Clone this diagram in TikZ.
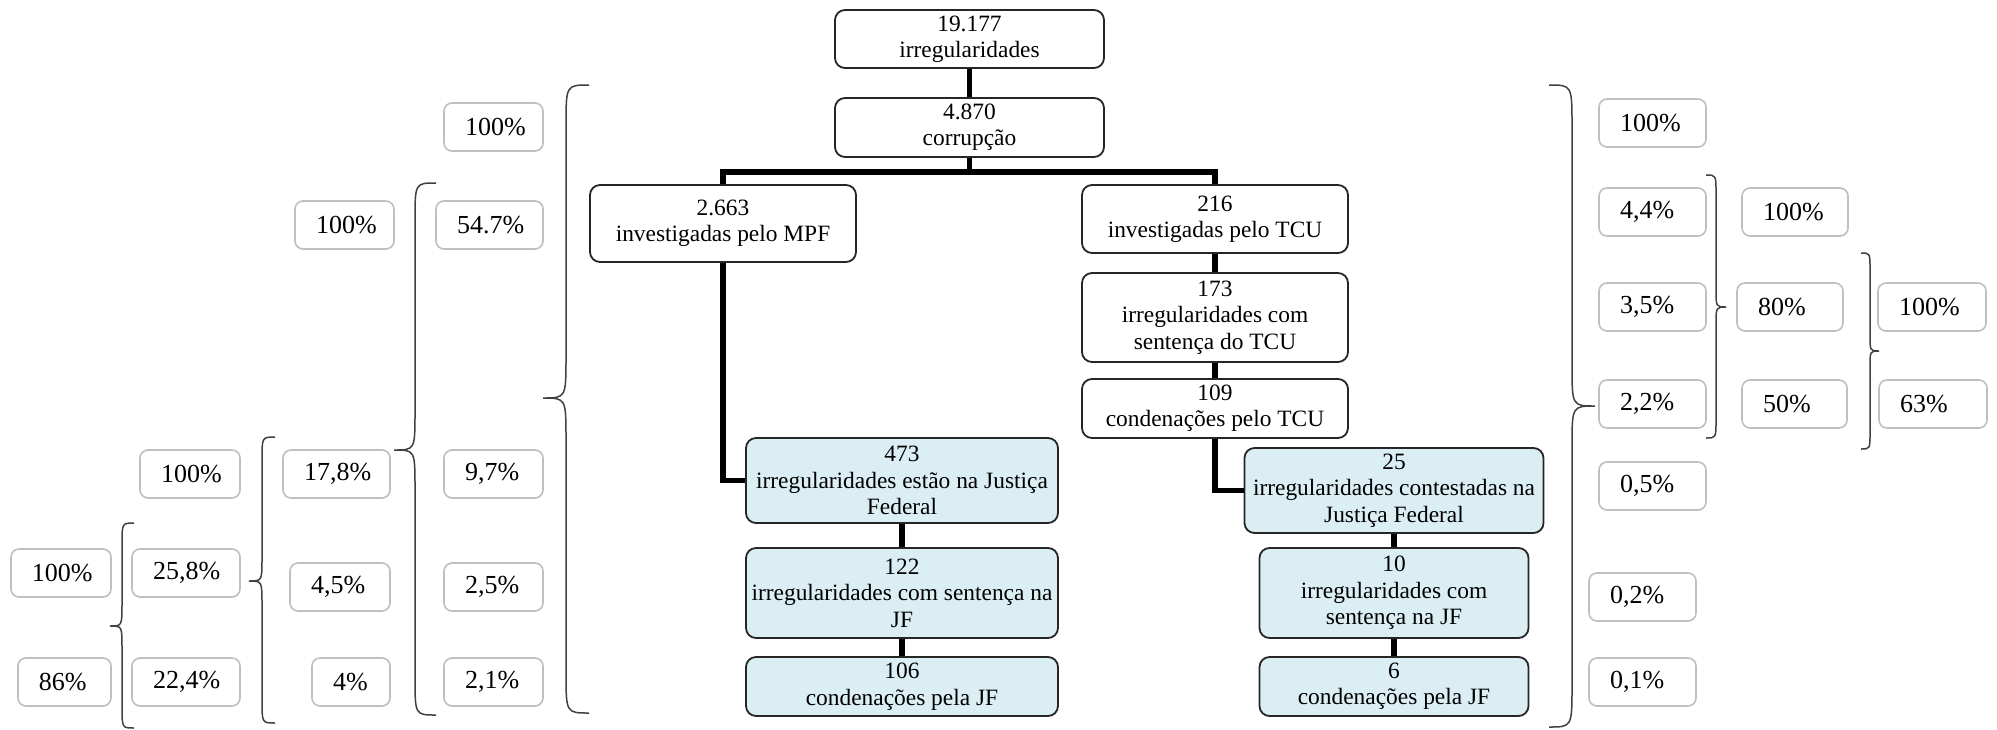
\documentclass[tikz,border=0pt]{standalone}
\usepackage{fontspec}
\setmainfont{Liberation Serif}
\usepackage{tikz}
\definecolor{jfblue}{HTML}{DAEEF3}
\definecolor{pctgray}{HTML}{BFBFBF}
\definecolor{bracegray}{HTML}{404040}
\newcommand{\treefont}{\fontsize{11.7}{13.2}\selectfont}
\newcommand{\pctfont}{\fontsize{13}{15}\selectfont}
\def\curlybrace[#1](#2:#3)(#4:#5:#6){\draw[#1] ({#2+(#3)},#4) .. controls (#2,#4) .. (#2,{#4+1.8*abs(#3)}) -- (#2,{#5-1.8*abs(#3)}) .. controls (#2,#5) .. ({#2-(#3)},#5) .. controls (#2,#5) .. (#2,{#5+1.8*abs(#3)}) -- (#2,{#6-1.8*abs(#3)}) .. controls (#2,#6) .. ({#2+(#3)},#6);}

\begin{document}
\begin{tikzpicture}[x=0.5pt, y=-0.5pt,
	tbox/.style 2 args={draw=black!85, line width=0.9pt, rounded corners=5pt, align=center, inner sep=0pt, font=\treefont, minimum width=#1pt, minimum height=#2pt},
	jbox/.style 2 args={tbox={#1}{#2}, fill=jfblue},
	pct/.style={draw=pctgray, line width=0.8pt, rounded corners=4pt, fill=white, inner xsep=10.5pt, inner ysep=0pt, minimum height=24pt, align=left, font=\pctfont, text width=#1pt},
	link/.style={line width=2.8pt},
	brc/.style={draw=bracegray, line width=0.75pt}]
		\useasboundingbox (0,0) rectangle (1997,729);
		%%%%% TREE %%%%%
		
		\node[tbox={134.5}{29}] (irr) at (969.5,39) {19.177\\irregularidades};
		\node[tbox={134.5}{29.5}] (corr) at (969.5,127.5) {4.870\\corrupção};
		\node[tbox={133}{38.5}] (mpf) at (723,223.5) {2.663\\investigadas pelo MPF};
		\node[tbox={133}{34}] (tcu) at (1215,219) {216\\investigadas pelo TCU};
		\node[tbox={133}{44.5}] (tcusent) at (1215,317.5) {173\\irregularidades com\\sentença do TCU};
		\node[tbox={133}{29.5}] (tcucond) at (1215,408.5) {109\\condenações pelo TCU};
		
		\node[jbox={156}{42.5}] (jfmpf) at (902,480.5) {473\\irregularidades estão na Justiça\\Federal};
		\node[jbox={156}{45}] (jfsentmpf) at (902,593) {122\\irregularidades com sentença na\\JF};
		\node[jbox={156}{29.5}] (jfcondmpf) at (902,686.5) {106\\condenações pela JF};
		\node[jbox={149.5}{42.5}] (jftcu) at (1394,490.5) {25\\irregularidades contestadas na\\Justiça Federal};
		\node[jbox={134.5}{45}] (jfsenttcu) at (1394,593) {10\\irregularidades com\\sentença na JF};
		\node[jbox={134.5}{29.5}] (jfcondtcu) at (1394,686.5) {6\\condenações pela JF};
		
		\coordinate (bar) at (969.5,172);
		\draw[link] (irr.south) -- (corr.north);
		\draw[link] (corr.south) -- (bar);
		\draw[link] (mpf.north) |- (bar) -| (tcu.north);
		\draw[link] (tcu.south) -- (tcusent.north);
		\draw[link] (tcusent.south) -- (tcucond.north);
		\draw[link] (mpf.south) |- (jfmpf.west);
		\draw[link] (tcucond.south) |- (jftcu.west);
		\draw[link] (jfmpf.south) -- (jfsentmpf.north);
		\draw[link] (jfsentmpf.south) -- (jfcondmpf.north);
		\draw[link] (jftcu.south) -- (jfsenttcu.north);
		\draw[link] (jfsenttcu.south) -- (jfcondtcu.north);
		
		%%%%% LEFT %%%%%
		
		\node[pct=28.5] (pa) at (493.5,127) {100\%};
		\node[pct=28.5] (pb) at (344.5,225) {100\%};
		\node[pct=32.5] (pc) at (489.5,225) {54.7\%};
		\node[pct=29] (pd) at (190,474) {100\%};
		\node[pct=32.5] (pe) at (336.5,474) {17,8\%};
		\node[pct=28.5] (pf) at (493.5,474) {9,7\%};
		\node[pct=29] (pg) at (61,573) {100\%};
		\node[pct=33] (ph) at (186,573) {25,8\%};
		\node[pct=29] (pi) at (340,587) {4,5\%};
		\node[pct=28.5] (pj) at (493.5,587) {2,5\%};
		\node[pct=25.5] (pk) at (64.5,682) {86\%};
		\node[pct=33] (pl) at (186,682) {22,4\%};
		\node[pct=18] (pm) at (351,682) {4\%};
		\node[pct=28.5] (pn) at (493.5,682) {2,1\%};
		
		\curlybrace[brc](566:23)(85:398:713)
		\curlybrace[brc](415:21)(183:450:715)
		\curlybrace[brc](262:13)(437:581:723)
		\curlybrace[brc](122:12)(523:626:728)
		
		%%%%% RIGHT %%%%%
		
		\node[pct=32.5] (qa) at (1652.5,123) {100\%};
		\node[pct=32.5] (qb) at (1652.5,212) {4,4\%};
		\node[pct=32] (qc) at (1795,212) {100\%};
		\node[pct=32.5] (qd) at (1652.5,307) {3,5\%};
		\node[pct=32] (qe) at (1790,307) {80\%};
		\node[pct=33] (qf) at (1932,307) {100\%};
		\node[pct=32.5] (qg) at (1652.5,404) {2,2\%};
		\node[pct=31.5] (qh) at (1794.5,404) {50\%};
		\node[pct=33] (qi) at (1933,404) {63\%};
		\node[pct=32.5] (qj) at (1652.5,486) {0,5\%};
		\node[pct=32.5] (qk) at (1642.5,597) {0,2\%};
		\node[pct=32.5] (ql) at (1642.5,682) {0,1\%};
		
		\curlybrace[brc](1572:-23)(85:406:727)
		\curlybrace[brc](1716:-10)(175:307:438)
		\curlybrace[brc](1870:-9)(253:351:449)
\end{tikzpicture}
\end{document}
